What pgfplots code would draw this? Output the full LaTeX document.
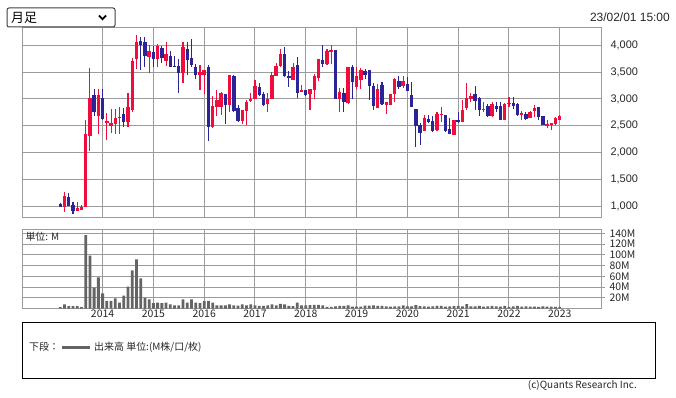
\documentclass[border=0pt]{standalone}
\usepackage{fontspec}
\setmainfont{Liberation Sans}
\newfontfamily\jp{Noto Sans CJK JP}
\usepackage{pgfplots}
\usepackage{pgfplotstable}
\pgfplotsset{compat=1.18}
\definecolor{cRed}{RGB}{240,12,60}
\definecolor{cBlue}{RGB}{42,36,150}
\definecolor{cGrid}{RGB}{155,155,155}
\definecolor{cVol}{RGB}{100,100,100}
\definecolor{cTxt}{RGB}{40,40,40}

% rising (red) candles: x o h l c
\pgfplotstableread{
x o h l c
3 987 1266 900 1185
6 918 1074 910 974
7 937 1030 930 993
8 993 2608 990 2347
9 2316 3577 2036 3018
11 2676 3186 2353 3074
13 2552 2732 2241 2583
14 2502 2813 2366 2552
15 2533 2813 2353 2645
16 2639 2844 2353 2664
18 2571 3117 2484 2850
19 2800 3770 2751 3707
20 3751 4200 3560 4060
23 3785 4000 3475 3890
25 3738 4018 3600 3993
27 3707 4055 3620 3832
31 3477 4060 3300 3962
35 3453 3633 3173 3502
36 3453 3540 3099 3540
38 2471 3055 2453 2869
39 2856 3167 2689 2981
40 2856 3130 2700 3117
42 2888 3447 2750 3447
45 2589 2800 2540 2794
46 2776 2975 2515 2950
47 2968 3117 2950 2993
48 2993 3347 2990 3242
51 2906 3117 2763 3006
52 2993 3509 2990 3440
53 3434 3664 3430 3614
54 3620 3931 3600 3838
57 3360 3676 3350 3596
59 3136 3260 3130 3161
61 3092 3186 2794 3186
62 3167 3459 2993 3428
63 3397 3745 3341 3745
65 3658 3931 3633 3900
66 3881 4006 3658 3912
68 3006 3198 2763 3136
70 2931 3596 2900 3596
72 3229 3590 3180 3434
73 3353 3571 3186 3540
77 2838 3279 2830 3186
79 2894 2943 2726 2943
80 2894 3086 2880 3086
81 3086 3397 2937 3378
83 3248 3434 3210 3329
88 2409 2701 2400 2639
91 2422 2763 2400 2714
92 2695 2856 2577 2726
95 2328 2608 2328 2608
97 2577 2981 2570 2794
98 2838 3291 2794 3018
99 2999 3105 2950 3055
102 2788 2950 2763 2813
104 2683 2950 2670 2906
107 2614 2931 2608 2906
108 2906 3030 2856 2931
111 2707 2782 2614 2732
113 2651 2776 2639 2763
114 2782 2888 2670 2838
117 2502 2608 2465 2527
118 2509 2558 2422 2558
119 2533 2664 2515 2639
120 2614 2701 2610 2683
}\upT

% falling (blue) candles: x o h l c
\pgfplotstableread{
x o h l c
2 1042 1061 987 995
4 1167 1248 1000 1005
5 1018 1074 862 918
10 3074 3186 2689 2763
12 3018 3186 2608 2633
17 2720 2838 2484 2571
21 4080 4161 3540 4000
22 4060 4160 3600 3805
24 3875 3995 3600 3750
26 3950 3993 3664 3757
28 3800 3894 3600 3602
29 3620 3800 3595 3605
30 3614 3740 3105 3490
32 3931 4055 3450 3732
33 3763 4117 3602 3633
34 3596 3645 3366 3453
37 3596 3633 2223 2484
41 3086 3100 2540 2888
43 3428 3447 2751 2782
44 2832 2888 2565 2589
49 3223 3304 3050 3074
50 3086 3136 2860 2888
55 3838 3962 3416 3422
56 3428 3521 3229 3391
58 3633 3782 3012 3117
60 3161 3167 3060 3074
64 3726 4006 3590 3658
67 3912 3912 3006 3006
69 3105 3210 2763 2950
71 3596 3633 2993 3310
74 3521 3552 3366 3447
75 3540 3540 2981 3248
76 3248 3304 2794 2875
78 3260 3322 2888 2906
82 3329 3434 3186 3229
84 3279 3416 3150 3155
85 3074 3316 2850 2856
86 2813 2813 2111 2502
87 2515 2546 2148 2366
89 2620 2701 2550 2565
90 2589 2683 2390 2409
93 2701 2701 2390 2409
94 2440 2639 2347 2347
96 2602 2751 2546 2565
100 3086 3242 2794 2968
101 3012 3043 2689 2794
103 2875 2906 2658 2689
105 2875 2950 2763 2813
106 2875 2950 2608 2608
109 2918 3043 2813 2869
110 2906 2931 2689 2701
112 2720 2763 2614 2620
115 2856 2856 2608 2670
116 2683 2683 2515 2515
}\downT

% volume (M)
\pgfplotstableread{
x v
2 2.5
3 7.5
4 4.4
5 4.4
6 4.4
7 2.5
8 137
9 98.5
10 39
11 58
12 28
13 14
14 14
15 19
16 11
17 24
18 41
19 71
20 91.5
21 56
22 20
23 17
24 10
25 11
26 10
27 11
28 7.5
29 6
30 6
31 17
32 11
33 17
34 11
35 10
36 14
37 14
38 11
39 6
40 6
41 6
42 7.5
43 6
44 5.6
45 7.5
46 6
47 7.5
48 6
49 5
50 5
51 6
52 7.5
53 6
54 8.7
55 7.5
56 5
57 4.4
58 11
59 6
60 6
61 6.5
62 7
63 7
64 6
65 3
66 3
67 4
68 5
69 5
70 6
71 3.5
72 3.5
73 3.5
74 5.5
75 5.5
76 6
77 5
78 5
79 4
80 3.5
81 4
82 4
83 6
84 4
85 4
86 6.5
87 4.5
88 4
89 3.5
90 4
91 5
92 5
93 3.5
94 4
95 4.5
96 5
97 4
98 8
99 4
100 4
101 5
102 3.5
103 4
104 5
105 4
106 3.5
107 5
108 3
109 4
110 5
111 3.5
112 4
113 3.5
114 3.5
115 3
116 4
117 3.5
118 3.5
119 3
120 3
}\volT

\begin{document}
\begin{tikzpicture}[x=1bp,y=1bp]
\path[use as bounding box, fill=white] (0,0) rectangle (676,397);

% ---- price panel ----
\begin{axis}[
  at={(22bp,179.3bp)}, anchor=south west,
  width=579bp, height=189.7bp, scale only axis,
  xmin=-7.04, xmax=129.74, ymin=788, ymax=4322,
  axis line style={cGrid, line width=1bp},
  xtick={12,24,...,120}, xticklabels={},
  ytick={1000,1500,...,4000},
  yticklabel pos=right,
  tick style={draw=none},
  grid=major, major grid style={cGrid, line width=1bp},
  yticklabel style={font=\fontsize{11}{12}\selectfont, text=cTxt, xshift=6bp},
  /pgf/number format/1000 sep={,},
  /pgf/number format/assume math mode=true,
]
\addplot[draw=none, mark=none, forget plot,
  error bars/.cd, y dir=plus, y explicit, error mark=none,
  error bar style={draw=cRed, line width=1.1bp}]
  table[x=x, y=l, y error plus expr={\thisrow{h}-\thisrow{l}}] {\upT};
\addplot[draw=none, mark=none, forget plot,
  error bars/.cd, y dir=plus, y explicit, error mark=none,
  error bar style={draw=cRed, line width=3.4bp}]
  table[x=x, y=o, y error plus expr={max(\thisrow{c}-\thisrow{o},18)}] {\upT};
\addplot[draw=none, mark=none, forget plot,
  error bars/.cd, y dir=plus, y explicit, error mark=none,
  error bar style={draw=cBlue, line width=1.1bp}]
  table[x=x, y=l, y error plus expr={\thisrow{h}-\thisrow{l}}] {\downT};
\addplot[draw=none, mark=none, forget plot,
  error bars/.cd, y dir=plus, y explicit, error mark=none,
  error bar style={draw=cBlue, line width=3.4bp}]
  table[x=x, y=c, y error plus expr={max(\thisrow{o}-\thisrow{c},18)}] {\downT};
\end{axis}

% ---- volume panel ----
\begin{axis}[
  at={(22bp,88.5bp)}, anchor=south west,
  width=579bp, height=78.8bp, scale only axis,
  xmin=-7.04, xmax=129.74, ymin=0, ymax=147,
  axis line style={cGrid, line width=1bp},
  xtick={12,24,...,120},
  xticklabels={2014,2015,2016,2017,2018,2019,2020,2021,2022,2023},
  xtick style={draw=none},
  xticklabel style={font=\jp\fontsize{10.5}{11}\selectfont, text=cTxt, yshift=2bp},
  ytick={20,40,...,140},
  yticklabels={20M,40M,60M,80M,100M,120M,140M},
  ytick pos=right, ytick align=outside, major tick length=4bp,
  ytick style={cGrid, line width=1bp},
  yticklabel style={font=\jp\fontsize{10.5}{11}\selectfont, text=cTxt, xshift=1bp},
  grid=major, major grid style={cGrid, line width=1bp},
]
\addplot[ybar, bar width=2.8bp, bar shift=0pt, fill=cVol, draw=none]
  table[x=x, y=v] {\volT};
\node[anchor=north west, font=\jp\fontsize{10}{11}\selectfont, text=cTxt, inner sep=1bp]
  at (rel axis cs:0.004,0.98) {単位: M};
\end{axis}

% ---- top controls ----
\draw[rounded corners=2bp, line width=1bp, color=black!75] (7,370) rectangle (115,389);
\node[anchor=west, font=\jp\fontsize{13}{14}\selectfont, inner sep=0] at (11,379.5) {月足};
\draw[line width=1.8bp, black] (99,381.5) -- (102.5,377.8) -- (106,381.5);
\node[anchor=east, font=\fontsize{12}{13}\selectfont, text=cTxt, inner sep=0] at (670,380) {23/02/01 15:00};

% ---- legend box ----
\draw[black, line width=1bp] (22,19) rectangle (655,75);
\node[anchor=west, font=\jp\fontsize{10}{11}\selectfont, text=cTxt, inner sep=0] at (29,50) {下段：};
\draw[cVol, line width=3bp] (62,50) -- (90,50);
\node[anchor=west, font=\jp\fontsize{10}{11}\selectfont, text=cTxt, inner sep=0] at (94,50) {出来高 単位:(M株/口/枚)};
\node[anchor=east, font=\jp\fontsize{10}{11}\selectfont, text=cTxt, inner sep=0] at (637,12) {(c)Quants Research Inc.};
\end{tikzpicture}
\end{document}
